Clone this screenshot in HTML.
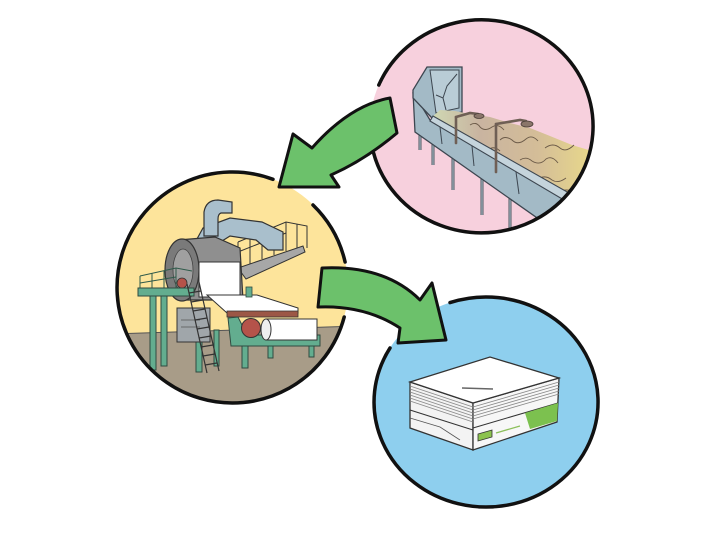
<!DOCTYPE html>
<html><head><meta charset="utf-8"><style>
html,body{margin:0;padding:0;background:#fff;}
svg{display:block}
</style></head><body>
<svg width="720" height="540" viewBox="0 0 720 540" xmlns="http://www.w3.org/2000/svg">
<defs>
<clipPath id="cp"><ellipse cx="481.5" cy="126.5" rx="110" ry="105"/></clipPath>
<clipPath id="cy"><ellipse cx="232.5" cy="287.5" rx="114" ry="114"/></clipPath>
<clipPath id="cb"><ellipse cx="486" cy="402" rx="110" ry="103"/></clipPath>
<linearGradient id="pulp" x1="430" y1="0" x2="595" y2="0" gradientUnits="userSpaceOnUse">
<stop offset="0" stop-color="#cfdab4"/><stop offset="0.3" stop-color="#c9b4a0"/><stop offset="0.65" stop-color="#d4bd98"/><stop offset="1" stop-color="#e9da8a"/></linearGradient>
</defs>

<!-- circle fills -->
<ellipse cx="481.5" cy="126.5" rx="111.5" ry="106.5" fill="#f7d0dd"/>
<ellipse cx="232.5" cy="287.5" rx="115.5" ry="115.5" fill="#fde49b"/>
<ellipse cx="486" cy="402" rx="112" ry="105" fill="#8ecfee"/>

<!-- PINK: conveyor -->
<g clip-path="url(#cp)">
  <g stroke="#4b5660" stroke-width="3" fill="none">
    <line x1="420" y1="125" x2="420" y2="150"/>
    <line x1="433" y1="135" x2="433" y2="165"/>
    <line x1="453" y1="150" x2="453" y2="190"/>
    <line x1="482" y1="170" x2="482" y2="215"/>
    <line x1="510" y1="188" x2="510" y2="232"/>
    <line x1="540" y1="208" x2="540" y2="240"/>
  </g>
  <g stroke="#b9cad3" stroke-width="1" fill="none">
    <line x1="420" y1="125" x2="420" y2="150"/>
    <line x1="433" y1="135" x2="433" y2="165"/>
    <line x1="453" y1="150" x2="453" y2="190"/>
    <line x1="482" y1="170" x2="482" y2="215"/>
    <line x1="510" y1="188" x2="510" y2="232"/>
  </g>
  <polygon points="413,92 430,120 590,214 590,248 560,234 415,132" fill="#a3bac6" stroke="#3d4650" stroke-width="1.3"/>
  <g stroke="#3d4650" stroke-width="1" fill="none">
    <line x1="440" y1="127" x2="442" y2="144"/>
    <line x1="472" y1="146" x2="474" y2="166"/>
    <line x1="516" y1="172" x2="519" y2="194"/>
  </g>
  <polygon points="427,67 462,67 462,112 432,118 413,98 413,90" fill="#a3bac6" stroke="#3d4650" stroke-width="1.3"/>
  <polygon points="430,70 459,70 459,108 436,113" fill="#b9ccd6" stroke="#3d4650" stroke-width="1"/>
  <polyline points="436,95 443,98 447,86 457,74" fill="none" stroke="#3d4650" stroke-width="1"/>
  <line x1="443" y1="98" x2="446" y2="110" stroke="#3d4650" stroke-width="1"/>
  <polygon points="432,117 440,110 455,111 470,114 490,117 510,123 530,128 550,136 572,145 595,152 595,205 578,208 430,121" fill="url(#pulp)"/>
  <g stroke="#6b5a48" stroke-width="0.9" fill="none">
    <path d="M470,125 q6,-4 10,2 q5,5 12,0 q6,-4 12,3"/>
    <path d="M500,140 q5,-5 12,0 q6,6 14,-1 q6,-5 12,2"/>
    <path d="M520,160 q6,-4 12,1 q8,5 14,-2 q6,-4 12,4"/>
    <path d="M545,148 q8,-6 15,0 q6,5 14,-3"/>
    <path d="M540,178 q6,-3 12,2 q6,4 14,-2"/>
    <path d="M488,150 q6,-5 12,1"/>
    <path d="M560,192 q6,-4 14,0"/>
  </g>
  <polygon points="430,121 433,116 592,206 586,213" fill="#c5d4dc" stroke="#3d4650" stroke-width="1.1"/>
  <g stroke="#6f5f55" stroke-width="2.6" fill="none" stroke-linecap="round">
    <line x1="456" y1="117" x2="456" y2="143"/>
    <polyline points="456,117 470,113 478,114"/>
    <line x1="496" y1="124" x2="496" y2="172"/>
    <polyline points="496,124 520,120 526,121"/>
  </g>
  <ellipse cx="479" cy="116" rx="5" ry="2.5" fill="#8a766a" stroke="#4a3e38" stroke-width="0.8"/>
  <ellipse cx="527" cy="124" rx="6" ry="3" fill="#8a766a" stroke="#4a3e38" stroke-width="0.8"/>
</g>

<!-- YELLOW: paper machine -->
<g clip-path="url(#cy)">
  <polygon points="110,334 360,326 360,410 110,410" fill="#a89c88"/>
  <line x1="110" y1="334" x2="360" y2="326" stroke="#555" stroke-width="1"/>
  <!-- walkway -->
  <polygon points="238,268 303,246 305,252 246,279" fill="#a7a7a7" stroke="#333" stroke-width="1"/>
  <g stroke="#333" stroke-width="1" fill="none">
    <polyline points="238,242 286,222 307,226 307,248"/>
    <line x1="238" y1="242" x2="238" y2="268"/>
    <line x1="250" y1="237" x2="250" y2="264"/>
    <line x1="262" y1="232" x2="262" y2="259"/>
    <line x1="274" y1="227" x2="274" y2="255"/>
    <line x1="286" y1="222" x2="286" y2="251"/>
    <line x1="297" y1="224" x2="297" y2="248"/>
    <line x1="238" y1="252" x2="286" y2="233"/>
  </g>
  <!-- hood/duct -->
  <polygon points="192,248 203,228 230,218 262,222 283,232 283,250 268,250 256,240 230,236 214,246" fill="#a9bfcc" stroke="#333" stroke-width="1.2"/>
  <path d="M204,236 L204,212 Q206,200 218,200 L232,202 L232,213 L221,213 Q218,214 218,219 L218,236 Z" fill="#a9bfcc" stroke="#333" stroke-width="1.2"/>
  <!-- drum -->
  <polygon points="178,240 215,237 240,248 243,300 180,300" fill="#8f8f8f" stroke="#333" stroke-width="1.2"/>
  <ellipse cx="182" cy="270" rx="17" ry="31" fill="#7a7a7a" stroke="#333" stroke-width="1.2"/>
  <ellipse cx="183" cy="270" rx="10" ry="21" fill="#a0a0a0" stroke="#444" stroke-width="0.8"/>
  <rect x="199" y="262" width="41" height="35" fill="#fff" stroke="#333" stroke-width="1"/>
  <circle cx="182" cy="283" r="5" fill="#b5534a" stroke="#333" stroke-width="0.8"/>
  <!-- left platform -->
  <g stroke="#2f5a4a" stroke-width="1" fill="none">
    <polyline points="140,276 176,268 192,271"/>
    <line x1="140" y1="276" x2="140" y2="290"/>
    <line x1="152" y1="273" x2="152" y2="290"/>
    <line x1="164" y1="271" x2="164" y2="290"/>
    <line x1="176" y1="268" x2="176" y2="290"/>
    <line x1="140" y1="283" x2="176" y2="277"/>
  </g>
  <rect x="138" y="288" width="56" height="8" fill="#63ad8f" stroke="#2f4a40" stroke-width="1"/>
  <rect x="150" y="296" width="6" height="74" fill="#63ad8f" stroke="#2f4a40" stroke-width="1"/>
  <rect x="161" y="296" width="6" height="70" fill="#63ad8f" stroke="#2f4a40" stroke-width="1"/>
  <rect x="196" y="330" width="6" height="42" fill="#63ad8f" stroke="#2f4a40" stroke-width="1"/>
  <rect x="214" y="330" width="5" height="36" fill="#63ad8f" stroke="#2f4a40" stroke-width="1"/>
  <!-- grey box -->
  <rect x="177" y="308" width="33" height="34" fill="#a0a6aa" stroke="#333" stroke-width="1"/>
  <g stroke="#555" stroke-width="0.8">
    <line x1="181" y1="320" x2="200" y2="320"/>
    <line x1="181" y1="327" x2="200" y2="327"/>
  </g>
  <!-- web and felt -->
  <polygon points="207,295 257,295 298,308 298,313 227,313" fill="#fff" stroke="#333" stroke-width="1"/>
  <polygon points="227,311 298,311 298,317 227,317" fill="#9c5746" stroke="#333" stroke-width="0.8"/>
  <rect x="246" y="287" width="6" height="10" fill="#63ad8f" stroke="#2f4a40" stroke-width="0.8"/>
  <!-- reel -->
  <polygon points="228,318 238,317 247,335 320,335 320,346 231,346" fill="#63ad8f" stroke="#2f4a40" stroke-width="1"/>
  <circle cx="251" cy="328" r="9.5" fill="#b5534a" stroke="#333" stroke-width="1"/>
  <rect x="266" y="319" width="51" height="21" fill="#fff" stroke="#333" stroke-width="1"/>
  <ellipse cx="266" cy="329.5" rx="5" ry="10.5" fill="#eee" stroke="#333" stroke-width="1"/>
  <rect x="242" y="346" width="6" height="22" fill="#63ad8f" stroke="#2f4a40" stroke-width="1"/>
  <rect x="268" y="346" width="5" height="12" fill="#63ad8f" stroke="#2f4a40" stroke-width="1"/>
  <rect x="309" y="346" width="5" height="11" fill="#63ad8f" stroke="#2f4a40" stroke-width="1"/>
  <!-- ladder -->
  <g stroke="#333" stroke-width="1.2" fill="none">
    <line x1="187" y1="284" x2="207" y2="373"/>
    <line x1="199" y1="282" x2="219" y2="371"/>
    <line x1="189" y1="293" x2="201" y2="291"/>
    <line x1="191" y1="302" x2="203" y2="300"/>
    <line x1="193" y1="311" x2="205" y2="309"/>
    <line x1="195" y1="320" x2="207" y2="318"/>
    <line x1="197" y1="329" x2="209" y2="327"/>
    <line x1="199" y1="338" x2="211" y2="336"/>
    <line x1="201" y1="347" x2="213" y2="345"/>
    <line x1="203" y1="356" x2="215" y2="354"/>
    <line x1="205" y1="365" x2="217" y2="363"/>
  </g>
</g>

<!-- BLUE: paper ream -->
<g clip-path="url(#cb)">
  <polygon points="410,382 473,403 473,450 410,428" fill="#f3f3f3" stroke="#333" stroke-width="1.3"/>
  <polygon points="473,403 559,378 557,422 473,450" fill="#f7f7f7" stroke="#333" stroke-width="1.3"/>
  <g stroke="#888" stroke-width="0.8">
    <line x1="410" y1="386" x2="473" y2="407"/>
    <line x1="410" y1="389" x2="473" y2="410"/>
    <line x1="410" y1="392" x2="473" y2="413"/>
    <line x1="410" y1="395" x2="473" y2="416"/>
    <line x1="410" y1="398" x2="473" y2="419"/>
    <line x1="410" y1="401" x2="473" y2="422"/>
    <line x1="473" y1="407" x2="559" y2="382"/>
    <line x1="473" y1="410" x2="559" y2="385"/>
    <line x1="473" y1="413" x2="559" y2="388"/>
    <line x1="473" y1="416" x2="559" y2="391"/>
    <line x1="473" y1="419" x2="559" y2="394"/>
  </g>
  <line x1="410" y1="410" x2="473" y2="430" stroke="#333" stroke-width="1"/>
  <line x1="473" y1="428" x2="558" y2="403" stroke="#333" stroke-width="1"/>
  <polyline points="410,418 440,427 460,440" fill="none" stroke="#555" stroke-width="0.8"/>
  <polygon points="525,413 558,403 557,421 530,429" fill="#7cc14f"/>
  <polygon points="478,434 492,430 492,437 478,441" fill="#8cc34f" stroke="#333" stroke-width="0.8"/>
  <line x1="496" y1="433" x2="520" y2="426" stroke="#8bbf5a" stroke-width="1.3"/>
  <polygon points="410,382 490,357 559,378 473,403" fill="#fff" stroke="#333" stroke-width="1.3"/>
  <line x1="462" y1="388" x2="493" y2="389" stroke="#666" stroke-width="1.5"/>
</g>

<!-- circle outlines with gaps -->
<g fill="none" stroke="#111" stroke-width="3.5" stroke-linecap="round">
  <path d="M378.8,85 A111.5,106.5 0 1 1 373.6,153"/>
  <path d="M313,205 A115.5,115.5 0 0 1 345.1,262"/>
  <path d="M344.2,317 A115.5,115.5 0 1 1 273,179.3"/>
  <path d="M450,302.6 A112,105 0 1 1 390,348"/>
</g>

<!-- arrows -->
<g fill="#6cc16b" stroke="#111" stroke-width="3" stroke-linejoin="round">
  <path d="M390,98 Q350,105 312,148 L293,134 L279,187 L339,187 L331,175 Q365,160 397,133 Z"/>
  <path d="M322,268 Q385,265 420,300 L432,283 L446,340 L398,343 L400,328 Q365,305 318,307 Z"/>
</g>
</svg>
</body></html>
